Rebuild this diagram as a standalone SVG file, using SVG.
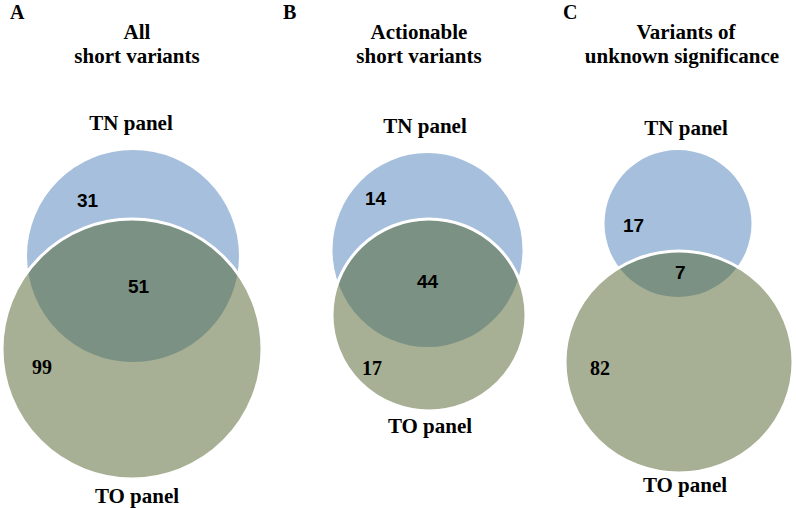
<svg xmlns="http://www.w3.org/2000/svg" width="796" height="508" viewBox="0 0 796 508">
<style>
.t{font-family:"Liberation Serif","Times New Roman",Times,"DejaVu Serif",serif;font-weight:700;font-size:21px;fill:#000;text-anchor:middle}
.lt{font-family:"Liberation Serif","Times New Roman",Times,"DejaVu Serif",serif;font-weight:700;font-size:20px;fill:#000}
.ns{font-family:"Liberation Sans",Arial,sans-serif;font-weight:700;font-size:19px;fill:#000}
.nr{font-family:"Liberation Serif","Times New Roman",Times,"DejaVu Serif",serif;font-weight:700;font-size:20px;fill:#000}
.tn{fill:#A6BFDD}
.to{fill:#A7B094}
.ov{fill:#7A9183}
.edge{fill:none;stroke:#fff;stroke-width:3}
</style>
<defs>
<clipPath id="clipA"><circle cx="133" cy="256" r="106"/></clipPath>
<clipPath id="clipB"><ellipse cx="427.5" cy="250" rx="95" ry="97"/></clipPath>
<clipPath id="clipC"><circle cx="678" cy="223.5" r="73.5"/></clipPath>
</defs>
<g id="panelA">
<text class="lt" x="10" y="19">A</text>
<text class="t" x="137" y="39">All</text>
<text class="t" x="137" y="63">short variants</text>
<g id="A-TN"><circle class="tn" cx="133" cy="256" r="106"/><text class="t" x="131" y="130">TN panel</text><text class="ns" x="77" y="207">31</text></g>
<g id="A-TO"><circle class="to" cx="132" cy="349" r="130"/><circle class="ov" cx="132" cy="349" r="130" clip-path="url(#clipA)"/><circle class="edge" cx="132" cy="349" r="130"/><text class="t" x="137" y="503">TO panel</text><text class="nr" x="32" y="374">99</text></g>
<text class="ns" x="128" y="293">51</text>
</g>
<g id="panelB">
<text class="lt" x="283" y="19">B</text>
<text class="t" x="419" y="39">Actionable</text>
<text class="t" x="419" y="63">short variants</text>
<g id="B-TN"><ellipse class="tn" cx="427.5" cy="250" rx="95" ry="97"/><text class="t" x="425" y="133">TN panel</text><text class="ns" x="365" y="205">14</text></g>
<g id="B-TO"><ellipse class="to" cx="429" cy="315" rx="97" ry="96"/><ellipse class="ov" cx="429" cy="315" rx="97" ry="96" clip-path="url(#clipB)"/><ellipse class="edge" cx="429" cy="315" rx="97" ry="96"/><text class="t" x="430" y="433">TO panel</text><text class="nr" x="362" y="375">17</text></g>
<text class="ns" x="417" y="288">44</text>
</g>
<g id="panelC">
<text class="lt" x="563" y="19">C</text>
<text class="t" x="686" y="39">Variants of</text>
<text class="t" x="682" y="63">unknown significance</text>
<g id="C-TN"><circle class="tn" cx="678" cy="223.5" r="73.5"/><text class="t" x="686" y="135">TN panel</text><text class="ns" x="623" y="232">17</text></g>
<g id="C-TO"><ellipse class="to" cx="679" cy="362" rx="114" ry="111"/><ellipse class="ov" cx="679" cy="362" rx="114" ry="111" clip-path="url(#clipC)"/><ellipse class="edge" cx="679" cy="362" rx="114" ry="111"/><text class="t" x="685" y="492">TO panel</text><text class="nr" x="590" y="375">82</text></g>
<text class="ns" x="675" y="279">7</text>
</g>
<g id="connectors"/>
</svg>
